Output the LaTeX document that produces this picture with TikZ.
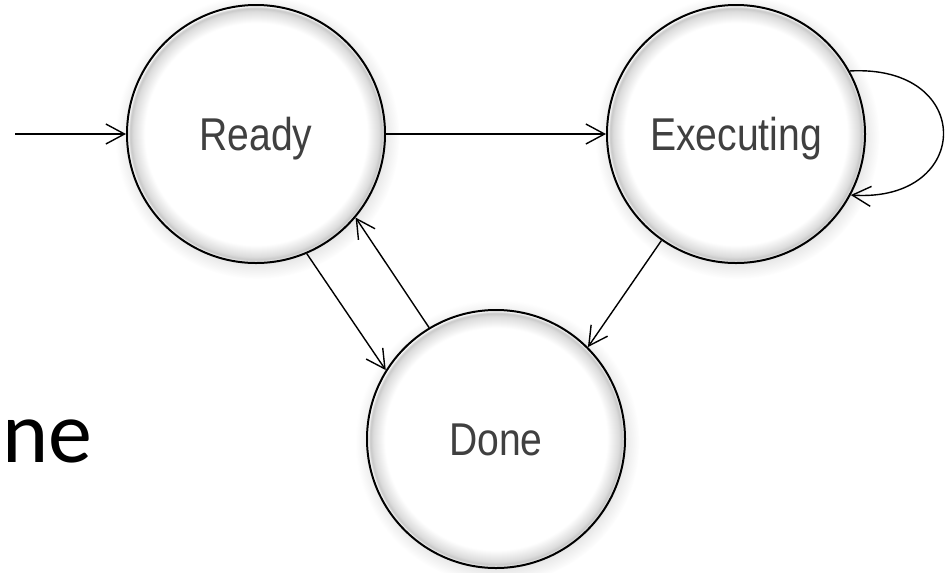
\documentclass[tikz,border=0pt]{standalone}
\usepackage{fontspec}
\setmainfont{Liberation Sans}
\newfontfamily\statefont[FakeStretch=0.85]{Liberation Sans}
\newfontfamily\slidefont{Carlito}
\usetikzlibrary{arrows.meta,shadows}
\definecolor{labelgray}{HTML}{404040}
% white ball with a thin soft grey band just inside the rim
\pgfdeclareradialshading{glassball}{\pgfpoint{0bp}{0bp}}{%
  color(0bp)=(white); color(21.5bp)=(white); color(23.8bp)=(black!14);
  color(24.4bp)=(black!22); color(24.85bp)=(white); color(50bp)=(white)}
\begin{document}
\begin{tikzpicture}[x=0.75pt,y=-0.75pt,
  state/.style={circle, draw=black, line width=1.5pt, minimum size=193.5pt,
    inner sep=0pt, shade, shading=glassball,
    circular drop shadow={shadow xshift=1pt, shadow yshift=-2pt, opacity=0.25},
    font=\statefont\fontsize{34.5}{34.5}\selectfont, text=labelgray,
    text height=24.5pt, text depth=0pt},
  link/.style={line width=1.05pt, -{Straight Barb[length=14pt,width=15pt]}}]
\useasboundingbox (0,0) rectangle (949,572);

\node[anchor=base west, inner sep=0pt, font=\slidefont\fontsize{66}{66}\selectfont] (word) at (2,462) {ne};

\node[state] (ready) at (256,134) {Ready};
\node[state] (exec)  at (736,134) {Executing};
\node[state] (done)  at (496,439) {Done};

\coordinate (entry) at (15,134);

\draw[link] (entry) -- (ready);
\draw[link] (ready) -- (exec);
\draw[link] (ready.-67) -- (done.148);
\draw[link] (done.121) -- (ready.-40);
\draw[link] (exec.235) -- (done.45.6);
\draw[link] (exec.29) .. controls +(126,-7) and +(122,8) .. (exec.-28.5);
\end{tikzpicture}
\end{document}
